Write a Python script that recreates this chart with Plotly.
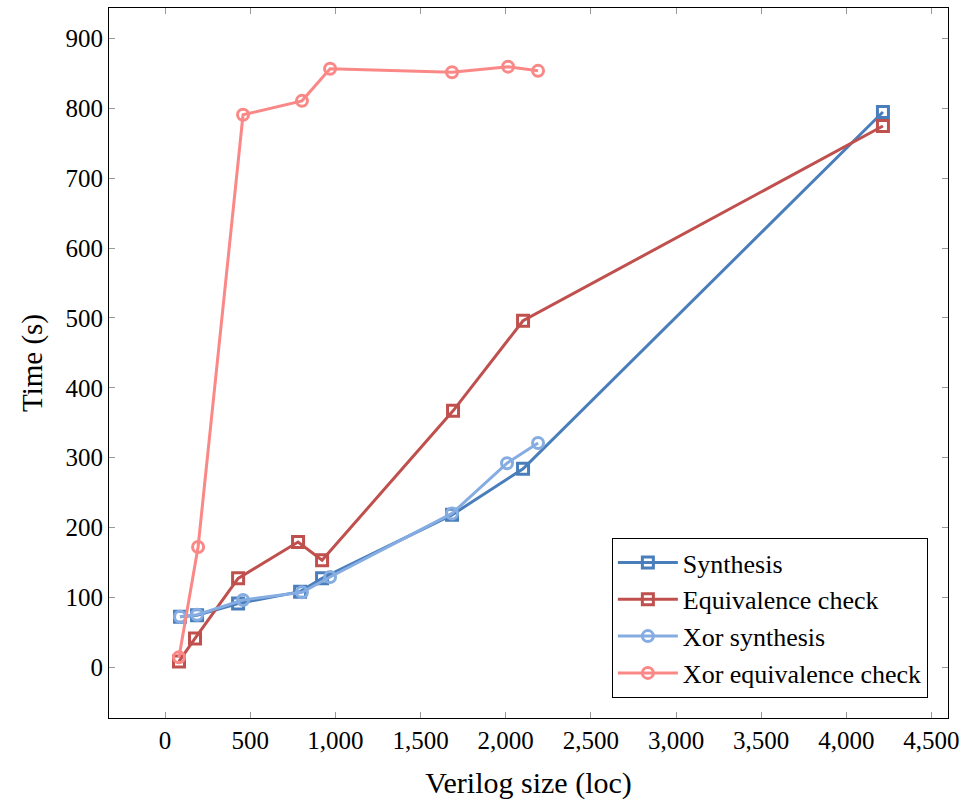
import plotly.graph_objects as go

# Data
synth_x = [88, 188, 429, 793, 922, 1685, 2102, 4215]
synth_y = [72, 74, 91, 108, 127, 218, 284, 795]

equiv_x = [82, 176, 429, 781, 922, 1691, 2102, 4215]
equiv_y = [8, 41, 127, 179, 153, 367, 496, 775]

xor_synth_x = [88, 188, 458, 804, 969, 1685, 2008, 2190]
xor_synth_y = [72, 75, 96, 107, 129, 220, 292, 321]

xor_equiv_x = [82, 194, 458, 804, 969, 1685, 2014, 2190]
xor_equiv_y = [14, 172, 791, 811, 857, 852, 860, 854]

x_ticks = [0, 500, 1000, 1500, 2000, 2500, 3000, 3500, 4000, 4500]
y_ticks = [0, 100, 200, 300, 400, 500, 600, 700, 800, 900]

series = [
    ("Synthesis", synth_x, synth_y, "#4a7ebb", "square-open"),
    ("Equivalence check", equiv_x, equiv_y, "#c0504d", "square-open"),
    ("Xor synthesis", xor_synth_x, xor_synth_y, "#85ade2", "circle-open"),
    ("Xor equivalence check", xor_equiv_x, xor_equiv_y, "#fa8886", "circle-open"),
]

FONT = "Liberation Serif"

fig = go.Figure()
for name, xs, ys, color, sym in series:
    fig.add_trace(go.Scatter(
        x=xs, y=ys, name=name, mode="lines+markers",
        line=dict(color=color, width=3),
        marker=dict(symbol=sym, size=11, color=color, line=dict(color=color, width=3)),
    ))

axis_common = dict(
    showgrid=False, zeroline=False, showline=True, linecolor="black", linewidth=1,
    mirror="ticks", ticks="inside", ticklen=6, tickcolor="#999999", tickwidth=1,
    tickfont=dict(family=FONT, size=25, color="black"), automargin=False,
)

fig.update_layout(
    width=961, height=800,
    margin=dict(l=109, r=13, t=8, b=82),
    plot_bgcolor="white", paper_bgcolor="white",
    font=dict(family=FONT, color="black"),
    xaxis=dict(range=[-329, 4597], tickvals=x_ticks, tickformat=",d",
               title=dict(text="Verilog size (loc)", font=dict(family=FONT, size=30), standoff=20),
               **axis_common),
    yaxis=dict(range=[-73, 944], tickvals=y_ticks,
               title=dict(text="Time (s)", font=dict(family=FONT, size=29), standoff=14),
               **axis_common),
    legend=dict(x=0.976, y=0.028, xanchor="right", yanchor="bottom",
                bordercolor="black", borderwidth=1, bgcolor="white",
                font=dict(family=FONT, size=26), tracegroupgap=0, itemwidth=60),
    showlegend=True,
)

fig.write_html(
    "out.html",
    config={"displayModeBar": False},
    post_script="document.body.style.margin='0';document.body.style.overflow='hidden';",
)
